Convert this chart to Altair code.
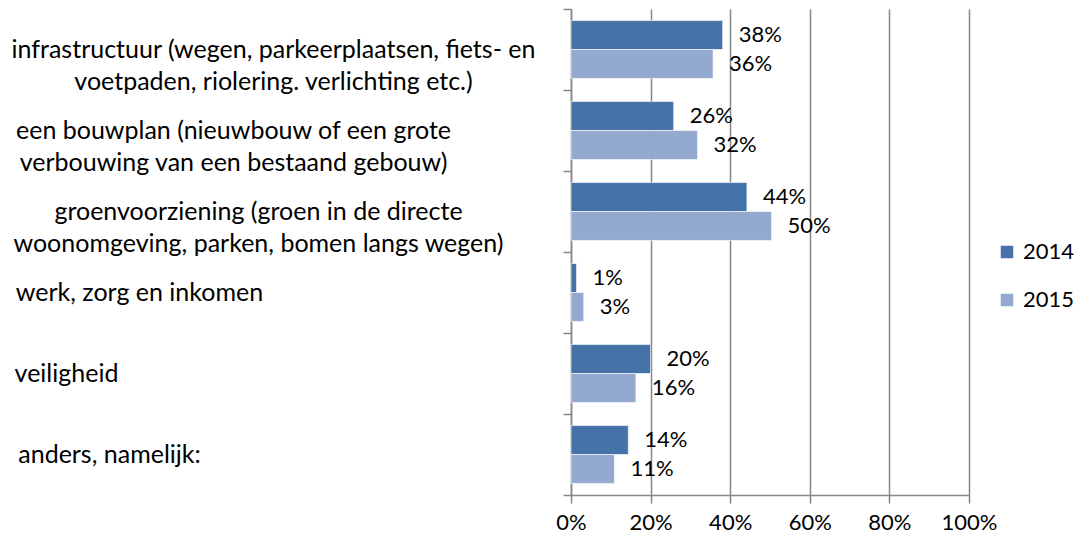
import json
import altair as alt
import pandas as pd

categories = [
    ["infrastructuur (wegen, parkeerplaatsen, fiets- en", "voetpaden, riolering. verlichting etc.)"],
    ["een bouwplan (nieuwbouw of een grote", "verbouwing van een bestaand gebouw)"],
    ["groenvoorziening (groen in de directe", "woonomgeving, parken, bomen langs wegen)"],
    ["werk, zorg en inkomen"],
    ["veiligheid"],
    ["anders, namelijk:"],
]
years = ["2014", "2015"]
values_2014 = [38.1, 25.8, 44.2, 1.4, 20.0, 14.4]
values_2015 = [35.7, 31.8, 50.4, 3.2, 16.3, 10.9]
x_ticks = [0, 20, 40, 60, 80, 100]
colors = ["#4572A7", "#93A9CF"]

# style: label anchor padding for each category (same order as categories)
label_pads = [290, 330, 305, 424, 497, 454]

rows = []
for i, (a, b) in enumerate(zip(values_2014, values_2015)):
    rows.append({"idx": i, "year": years[0], "value": a, "label": f"{a:.0f}%"})
    rows.append({"idx": i, "year": years[1], "value": b, "label": f"{b:.0f}%"})
df = pd.DataFrame(rows)

FONT = "Lato"
FS = 25      # category labels
NFS = 22     # numbers
GRAY = "#868686"

label_lookup = json.dumps(categories, ensure_ascii=False)
pad_lookup = json.dumps(label_pads)

y_enc = alt.Y(
    "idx:O", title=None,
    scale=alt.Scale(paddingInner=0, paddingOuter=0),
    axis=alt.Axis(
        labelExpr=f"{label_lookup}[datum.value]",
        labelAlign="center", labelBaseline="middle",
        labelLineHeight=32, labelFont=FONT, labelFontSize=FS, labelColor="black",
        labelPadding=alt.ExprRef(expr=f"{pad_lookup}[datum.value]"),
        labelLimit=0,
        tickBand="extent", tickSize=8, tickColor=GRAY, tickWidth=1.5,
        domainColor=GRAY, domainWidth=1.5, grid=False,
    ),
)
x_enc = alt.X(
    "value:Q", title=None,
    scale=alt.Scale(domain=[0, 100], nice=False),
    axis=alt.Axis(
        values=x_ticks, labelExpr="datum.value + '%'",
        labelOverlap=False, labelFlush=False,
        labelFont=FONT, labelFontSize=NFS, labelColor="black", labelPadding=9,
        tickSize=8, tickColor=GRAY, tickWidth=1.5,
        domainColor=GRAY, domainWidth=1.5,
        grid=True, gridColor=GRAY, gridWidth=1.5,
    ),
)

base = alt.Chart(df).encode(
    y=y_enc,
    yOffset=alt.YOffset("year:N", sort=years,
                        scale=alt.Scale(paddingInner=0, paddingOuter=0.4)),
)

bars = base.mark_bar(stroke="white", strokeWidth=0.6).encode(
    x=x_enc,
    color=alt.Color(
        "year:N", sort=years,
        scale=alt.Scale(domain=years, range=colors),
        legend=alt.Legend(
            title=None, orient="none", legendX=425, legendY=232,
            symbolType="square", symbolSize=196,
            labelFont=FONT, labelFontSize=NFS, labelColor="black",
            rowPadding=26, padding=0, labelOffset=5,
        ),
    ),
)

labels = base.mark_text(
    align="left", baseline="middle", dx=16, font=FONT, fontSize=NFS, color="black"
).encode(
    x=alt.X("value:Q"),
    text="label:N",
)

chart = (bars + labels).properties(
    width=398, height=486,
    autosize=alt.AutoSizeParams(type="none"),
    padding={"left": 563, "top": 1, "right": 105, "bottom": 40},
).configure(font=FONT).configure_view(stroke=None)

chart.save("out.html", embed_options={"renderer": "svg", "actions": False})
